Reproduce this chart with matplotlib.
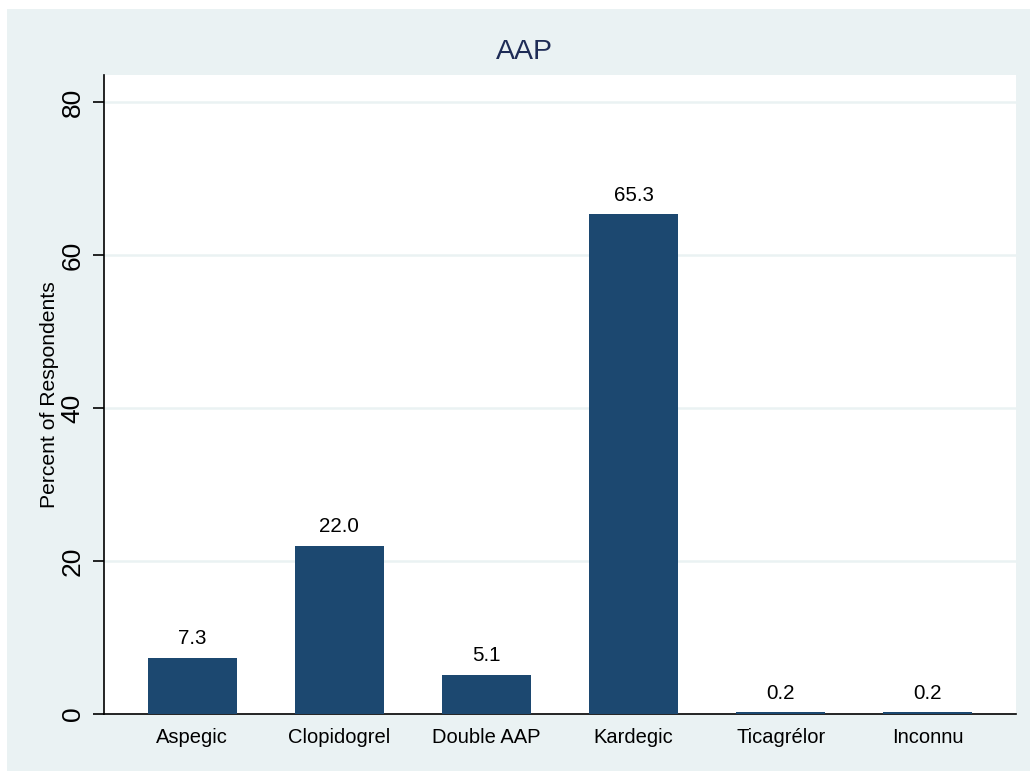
import matplotlib
matplotlib.use("Agg")
import matplotlib.pyplot as plt
from matplotlib.patches import Rectangle

categories = ["Aspegic", "Clopidogrel", "Double AAP", "Kardegic", "Ticagrélor", "Inconnu"]
values = [7.3, 22.0, 5.1, 65.3, 0.2, 0.2]
yticks = [0, 20, 40, 60, 80]
title = "AAP"
ylabel = "Percent of Respondents"

W, H = 1030, 771
plt.rcParams['font.family'] = ['Liberation Sans', 'DejaVu Sans']
fig = plt.figure(figsize=(W / 100, H / 100), dpi=100)
fig.patch.set_facecolor('white')
bg = '#EAF2F3'
fig.patches.append(Rectangle((7 / W, 0), 1 - 7 / W, 1 - 9 / H, transform=fig.transFigure,
                             facecolor=bg, edgecolor='none', zorder=-10))

left, right, top, bottom = 104, 1016, 75, 714
ax = fig.add_axes([left / W, 1 - bottom / H, (right - left) / W, (bottom - top) / H])
ax.set_facecolor('white')

x = list(range(len(categories)))
ax.bar(x, values, width=0.605, color='#1C4870', zorder=3)
for xi, v in zip(x, values):
    ax.annotate(f"{v:.1f}", (xi, v), xytext=(0, 7), textcoords='offset points',
                ha='center', va='bottom', fontsize=14.8, color='black')

ax.set_xlim(-0.6, 5.6)
ax.set_ylim(0, (bottom - top) / ((bottom - 102) / 80))
ax.set_yticks(yticks)
ax.set_yticklabels([str(t) for t in yticks], rotation=90, va='center', fontsize=19)
ax.set_xticks(x)
ax.set_xticklabels(categories, fontsize=14.5)
ax.tick_params(axis='x', length=0, pad=10)
ax.tick_params(axis='y', length=8, width=1.2, pad=6)
for t in yticks[1:]:
    ax.axhline(t, color=bg, lw=1.8, zorder=1)

for s in ['top', 'right']:
    ax.spines[s].set_visible(False)
for s in ['left', 'bottom']:
    ax.spines[s].set_linewidth(1.2)
    ax.spines[s].set_color('black')

ax.set_ylabel(ylabel, fontsize=15.2)
ax.yaxis.set_label_coords((59 - left) / (right - left), 0.5)
fig.text((496 + 553) / 2 / W, 1 - 52 / H, title, ha='center', va='center',
         fontsize=20.5, color='#1E2C56')

fig.savefig("out.png", dpi=100, facecolor=fig.get_facecolor())
